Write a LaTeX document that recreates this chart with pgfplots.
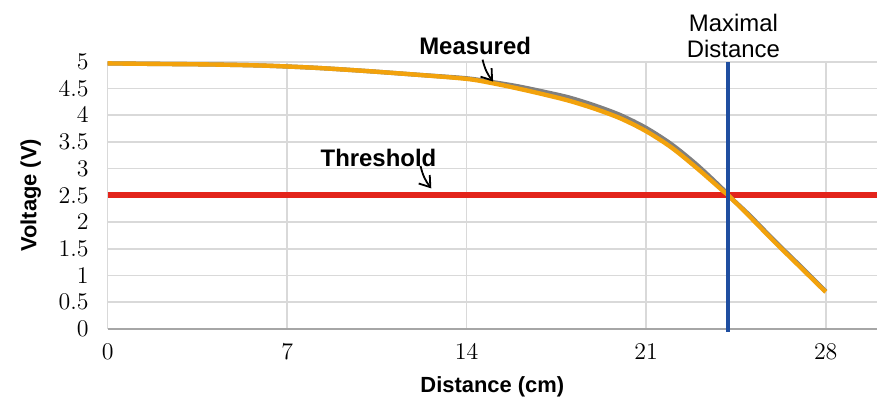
\documentclass[border=0pt]{standalone}
\usepackage{pgfplots}
\pgfplotsset{compat=1.18}
\usetikzlibrary{arrows.meta}
\usepackage{fontspec}
\setmainfont{Liberation Sans}
\definecolor{gridgray}{HTML}{D9D9D9}
\definecolor{meas}{HTML}{F2A20C}
\definecolor{measgray}{HTML}{7F7F7F}
\definecolor{thr}{HTML}{E3241B}
\definecolor{maxd}{HTML}{1F4EA0}
\begin{document}
\begin{tikzpicture}
\begin{axis}[
  scale only axis,
  width=386pt, height=134pt,
  xmin=0, xmax=30, ymin=0, ymax=5,
  axis x line=bottom, axis y line=left,
  axis line style={-},
  x axis line style={draw=gray!70, line width=0.8pt},
  y axis line style={draw=none},
  xtick={0,7,14,21,28},
  ytick={0,0.5,...,5},
  major tick length=0pt,
  grid=major,
  major grid style={draw=gridgray, line width=0.8pt},
  yticklabel style={/pgf/number format/fixed, font=\fontsize{11.5}{13}\selectfont, xshift=-6pt},
  xticklabel style={font=\fontsize{11.5}{13}\selectfont, yshift=-4pt},
  xlabel={\bfseries Distance (cm)},
  ylabel={\bfseries Voltage (V)},
  label style={font=\fontsize{11}{13}\selectfont},
  xlabel style={yshift=-2pt},
  ylabel style={yshift=2pt},
  clip=false,
]
% threshold
\addplot [thr, line width=3pt] coordinates {(0,2.5) (30,2.5)};
% measured (gray)
\addplot [measgray, line width=2.2pt, smooth] coordinates {
(0,4.97) (2,4.96) (4,4.95) (6,4.93) (8,4.89) (10,4.83) (12,4.76) (14,4.69)
(15,4.62) (16,4.54) (17,4.44) (18,4.33) (19,4.18) (20,4.00) (21,3.76)
(22,3.45) (23,3.06) (24,2.61) (24.2,2.50) (25,2.14) (26,1.65) (27,1.18) (28,0.70)};
% measured (orange)
\addplot [meas, line width=2.2pt, smooth] coordinates {
(0,4.97) (2,4.96) (4,4.95) (6,4.93) (8,4.89) (10,4.83) (12,4.76) (14,4.68)
(15,4.60) (16,4.50) (17,4.39) (18,4.27) (19,4.12) (20,3.94) (21,3.70)
(22,3.39) (23,3.00) (24,2.58) (24.2,2.50) (25,2.12) (26,1.63) (27,1.16) (28,0.69)};
% maximal distance
\addplot [maxd, line width=2pt] coordinates {(24.2,-0.05) (24.2,5)};
% annotations
\node [font=\bfseries\fontsize{12}{14}\selectfont] at (axis cs:14.33,5.30) {Measured};
\draw [-{Straight Barb[length=5pt,width=7pt]}, line width=0.9pt] (axis cs:14.62,5.04) to[bend right=12] (axis cs:15.03,4.63);
\node [font=\bfseries\fontsize{12}{14}\selectfont] at (axis cs:10.56,3.20) {Threshold};
\draw [-{Straight Barb[length=5pt,width=7pt]}, line width=0.9pt] (axis cs:12.20,3.05) to[bend right=12] (axis cs:12.62,2.63);
\node [font=\fontsize{12}{13}\selectfont, align=center, anchor=south, inner sep=0pt] at (axis cs:24.4,5.07) {Maximal\\Distance};
\path (rel axis cs:0,0) ++(-54pt,-36pt) rectangle ++(440pt,201pt);
\end{axis}
\end{tikzpicture}
\end{document}
